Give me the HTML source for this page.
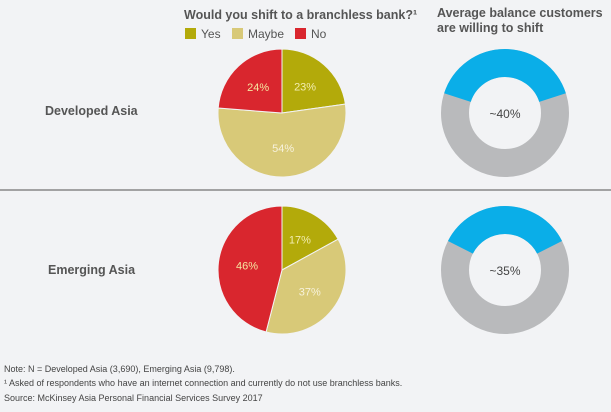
<!DOCTYPE html>
<html><head><meta charset="utf-8"><style>
body{margin:0;background:#f2f3f5;font-family:"Liberation Sans",sans-serif;}
svg{display:block}
</style></head><body>
<svg width="611" height="412" viewBox="0 0 611 412">
<rect width="611" height="412" fill="#f2f3f5"/>
<text x="184" y="19" font-size="12.5" font-weight="bold" fill="#555">Would you shift to a branchless bank?¹</text>
<text x="437" y="17" font-size="12.5" font-weight="bold" fill="#555"><tspan x="437">Average balance customers</tspan><tspan x="437" dy="15">are willing to shift</tspan></text>
<g>
<rect x="185" y="28" width="11" height="11" fill="#b3aa0a"/>
<text x="201" y="38" font-size="12" fill="#555">Yes</text>
<rect x="232" y="28" width="11" height="11" fill="#d8c978"/>
<text x="248" y="38" font-size="12" fill="#555">Maybe</text>
<rect x="295" y="28" width="11" height="11" fill="#d9262e"/>
<text x="311" y="38" font-size="12" fill="#555">No</text>
</g>
<text x="45" y="115" font-size="12.5" font-weight="bold" fill="#555">Developed Asia</text>
<text x="48" y="274" font-size="12.5" font-weight="bold" fill="#555">Emerging Asia</text>
<line x1="0" y1="190" x2="611" y2="190" stroke="#888" stroke-width="1.5"/>
<g id="charts"></g>
<g font-size="9" fill="#444">
<text x="4" y="372">Note: N = Developed Asia (3,690), Emerging Asia (9,798).</text>
<text x="4" y="386">¹ Asked of respondents who have an internet connection and currently do not use branchless banks.</text>
<text x="4" y="401">Source: McKinsey Asia Personal Financial Services Survey 2017</text>
</g>
</svg>
<script>
const regions = ["Developed Asia", "Emerging Asia"];
const categories = ["Yes", "Maybe", "No"];
const developedValues = [23, 54, 24];
const emergingValues = [17, 37, 46];
const balanceShare = [40, 35];
const balanceLabels = ["~40%", "~35%"];

const NS = "http://www.w3.org/2000/svg";
const g = document.getElementById("charts");
const colors = ["#b3aa0a", "#d8c978", "#d9262e"];
const labelColors = ["#f3edb0", "#f7f2dc", "#f5e6a0"];
function pt(cx, cy, r, a) { return [cx + r * Math.sin(a), cy - r * Math.cos(a)]; }
function mk(tag, attrs) { const e = document.createElementNS(NS, tag); for (const k in attrs) e.setAttribute(k, attrs[k]); g.appendChild(e); return e; }

function pie(vals, cx, cy, r, key) {
  const tot = vals.reduce((a, b) => a + b, 0);
  let a0 = 0;
  vals.forEach((v, i) => {
    const a1 = a0 + v / tot * 2 * Math.PI;
    const p0 = pt(cx, cy, r, a0), p1 = pt(cx, cy, r, a1);
    const large = (a1 - a0) > Math.PI ? 1 : 0;
    const p = mk("path", { d: `M${cx},${cy}L${p0[0]},${p0[1]}A${r},${r} 0 ${large} 1 ${p1[0]},${p1[1]}Z`, fill: colors[i], stroke: "#f2f3f5", "stroke-width": 1 });
    
    
    const m = (a0 + a1) / 2;
    const lp = pt(cx, cy, r * 0.55, m);
    const t = mk("text", { x: lp[0], y: lp[1] + 4, "text-anchor": "middle", "font-size": 11, fill: labelColors[i] });
    t.textContent = v + "%";
    
    
    a0 = a1;
  });
}
function donut(share, label, cx, cy, R, r0, key) {
  const rm = (R + r0) / 2, w = R - r0;
  const c = mk("circle", { cx: cx, cy: cy, r: rm, fill: "none", stroke: "#b9babc", "stroke-width": w });
  
  
  const half = share / 100 * Math.PI;
  const p0 = pt(cx, cy, rm, -half), p1 = pt(cx, cy, rm, half);
  const a = mk("path", { d: `M${p0[0]},${p0[1]}A${rm},${rm} 0 ${share > 50 ? 1 : 0} 1 ${p1[0]},${p1[1]}`, fill: "none", stroke: "#0aaee8", "stroke-width": w });
  
  
  const t = mk("text", { x: cx, y: cy + 5, "text-anchor": "middle", "font-size": 12, fill: "#444" });
  t.textContent = label;
  
  
}
pie(developedValues, 282, 113, 64, "developed");
pie(emergingValues, 282, 270, 64, "emerging");
donut(balanceShare[0], balanceLabels[0], 505, 113, 64, 36, "developed");
donut(balanceShare[1], balanceLabels[1], 505, 270, 64, 36, "emerging");
</script>
</body></html>
